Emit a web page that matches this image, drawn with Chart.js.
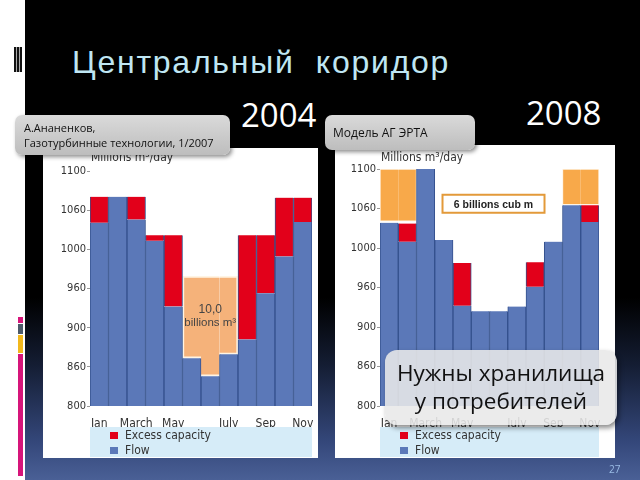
<!DOCTYPE html>
<html>
<head>
<meta charset="utf-8">
<script src="https://cdn.jsdelivr.net/npm/chart.js@4.4.0/dist/chart.umd.min.js"></script>
<style>
html, body { margin: 0; padding: 0; }
body { width: 640px; height: 480px; position: relative; overflow: hidden; background: #fff; font-family: "Open Sans", sans-serif; }
#slide { position: absolute; left: 25px; top: 0; width: 615px; height: 480px;
  background: linear-gradient(to bottom, #000 0%, #000 62%, #141d33 76%, #34477a 92%, #4a6096 100%); }
#bars { position: absolute; left: 14px; top: 47px; width: 8px; height: 25px;
  background: repeating-linear-gradient(90deg, #111 0 2px, #aaa 2px 3px); }
.strip { position: absolute; left: 18px; width: 5px; }
#title { position: absolute; left: 72px; top: 46px; font: 32px/32px "Liberation Sans", Arial, sans-serif; letter-spacing: 1.75px; color: #bfe6f3; white-space: pre; }
.year { position: absolute; font-size: 33px; line-height: 33px; color: #fff; }
.panel { position: absolute; background: #fff; }
.panel canvas { display: block; }
.note { position: absolute; box-sizing: border-box; border-radius: 7px; color: #111;
  background: linear-gradient(to bottom, #dadada, #bdbdbd); box-shadow: 2px 2px 4px rgba(0,0,0,0.45); }
#n1 { left: 15px; top: 115px; width: 215px; height: 40px; padding: 5px 0 0 9px; font-size: 11px; line-height: 15px; }
#n2 { left: 325px; top: 115px; width: 150px; height: 35px; padding: 10px 0 0 8px; font-size: 12px; line-height: 16px; }
#need { position: absolute; left: 385px; top: 350px; width: 232px; height: 75px; box-sizing: border-box; padding-top: 9px;
  text-align: center; font-size: 22.5px; line-height: 28px; color: #111; border-radius: 12px;
  background: rgba(232,232,232,0.88); box-shadow: 2px 3px 5px rgba(0,0,0,0.45); }
#pg { position: absolute; left: 609px; top: 462px; font-size: 10px; color: #9bbde6; }
</style>
</head>
<body>
<div id="slide"></div>
<div id="bars"></div>
<div class="strip" style="top:317px;height:6px;background:#d6157a"></div>
<div class="strip" style="top:324px;height:10px;background:#4c5a6a"></div>
<div class="strip" style="top:335px;height:18px;background:#f2b81c"></div>
<div class="strip" style="top:354px;height:122px;background:#d6157a"></div>

<div id="title">Центральный  коридор</div>
<div class="year" style="left:241px;top:98px">2004</div>
<div class="year" style="left:526px;top:96px">2008</div>

<div class="panel" style="left:43px;top:148px;width:275px;height:310px"><canvas id="c2004" width="275" height="310"></canvas></div>
<div class="panel" style="left:335px;top:145px;width:280px;height:313px"><canvas id="c2008" width="280" height="313"></canvas></div>

<div class="note" id="n1">А.Ананенков,<br>Газотурбинные технологии, 1/2007</div>
<div class="note" id="n2">Модель АГ ЭРТА</div>
<div id="need">Нужны хранилища<br>у потребителей</div>
<div id="pg">27</div>

<script>
const months = ['Jan', '', 'March', '', 'May', '', '', 'July', '', 'Sep', '', 'Nov'];
const yTickLabels = ['800', '860', '900', '960', '1000', '1060', '1100'];
const yAxisTitle = 'Millions m³/day';

// 2004 (Ананенков)
const flow2004 = [1034, 1067, 1038, 1011, 927, 861, 838, 866, 885, 944, 991, 1035];
const excess2004 = [33, 0, 29, 7, 91, 0, 0, 0, 133, 74, 75, 31];
const storage2004 = [null, null, null, null, null, [861, 966], [838, 966], [866, 966], null, null, null, null];
const storageText2004 = ['10,0', 'billions m³'];

// 2008 (модель АГ ЭРТА)
const flow2008 = [1032, 1008, 1100, 1010, 927, 920, 920, 926, 951, 1008, 1054, 1033];
const excess2008 = [0, 23, 0, 0, 54, 0, 0, 0, 31, 0, 0, 21];
const storage2008 = [[1034, 1100], [1034, 1100], null, null, null, null, null, null, null, null, [1055, 1100], [1055, 1100]];
const storageText2008 = '6 billions cub m';

const narrow = '"Liberation Sans Narrow", "DejaVu Sans Condensed", Arial, sans-serif';
const regular = '"Liberation Sans", Arial, sans-serif';

// axis title, legend box and storage captions
const panelExtras = {
  id: 'panelExtras',
  afterDraw(chart, args, opts) {
    const { ctx, chartArea: a, scales: { x, y } } = chart;
    ctx.save();
    ctx.textBaseline = 'middle';
    ctx.textAlign = 'left';
    ctx.fillStyle = '#333';
    ctx.font = '12px ' + narrow;
    ctx.fillText(yAxisTitle, a.left + 1, a.top - opts.titleGap);

    const top = a.bottom + 21;
    ctx.fillStyle = '#d6ecf8';
    ctx.fillRect(a.left, top, a.right - a.left, chart.height - 1 - top);
    const items = [chart.data.datasets[1], chart.data.datasets[0]];
    items.forEach((ds, i) => {
      const cy = top + 9 + i * 15;
      ctx.fillStyle = ds.backgroundColor;
      ctx.fillRect(a.left + 20, cy - 4, 8, 7);
      ctx.fillStyle = '#333';
      ctx.fillText(ds.label, a.left + 35, cy);
    });

    ctx.textAlign = 'center';
    if (opts.lines) {
      const cx = x.getPixelForValue(opts.at);
      ctx.fillStyle = '#444';
      ctx.font = '12px ' + regular;
      ctx.fillText(opts.lines[0], cx, y.getPixelForValue(opts.lineValues[0]));
      ctx.font = '11.5px ' + regular;
      ctx.fillText(opts.lines[1], cx, y.getPixelForValue(opts.lineValues[1]));
    }
    if (opts.box) {
      const cx = x.getPixelForValue(opts.at), cy = y.getPixelForValue(opts.boxValue);
      ctx.fillStyle = '#fff';
      ctx.strokeStyle = '#e39a3a';
      ctx.lineWidth = 2;
      ctx.fillRect(cx - 51, cy - 9, 102, 18);
      ctx.strokeRect(cx - 51, cy - 9, 102, 18);
      ctx.fillStyle = '#222';
      ctx.font = 'bold 10.5px ' + regular;
      ctx.fillText(opts.box, cx, cy + 1);
    }
    ctx.restore();
  }
};

function outline(ctx) {
  const d = ctx.dataset.data, i = ctx.dataIndex, w = ctx.dataset.edge;
  return { top: w, bottom: w, left: d[i - 1] ? 0 : w, right: d[i + 1] ? 0 : w };
}

function buildChart(id, flow, excess, storage, storageColor, edge, yWidth, padTop, padRight, extras) {
  return new Chart(document.getElementById(id), {
    type: 'bar',
    data: {
      labels: months,
      datasets: [
        { label: 'Flow', data: flow, stack: 's', backgroundColor: '#5b78b8', borderColor: '#34508c',
          borderWidth: { left: 1, right: 1, top: 0, bottom: 0 }, borderSkipped: false },
        { label: 'Excess capacity', data: excess, stack: 's', backgroundColor: '#e2001a', borderColor: '#34508c',
          borderWidth: { left: 1, right: 1, top: 0, bottom: 0 }, borderSkipped: false },
        { label: 'storage', data: storage, stack: 's', yAxisID: 'y2', backgroundColor: storageColor,
          borderColor: '#fff4e4', edge: edge, borderWidth: outline, borderSkipped: false }
      ]
    },
    options: {
      responsive: false,
      animation: false,
      layout: { padding: { left: 0, top: padTop, right: padRight, bottom: 0 } },
      datasets: { bar: { categoryPercentage: 1, barPercentage: 1 } },
      plugins: { legend: { display: false }, tooltip: { enabled: false }, panelExtras: extras },
      scales: {
        x: {
          stacked: true,
          grid: { display: false },
          border: { display: false },
          ticks: { autoSkip: false, maxRotation: 0, padding: 3, color: '#333', font: { family: narrow, size: 12 } },
          afterFit: s => { s.height = 52; }
        },
        y: {
          stacked: true, min: 800, max: 1100,
          grid: { drawOnChartArea: false, tickLength: 3, color: '#999' },
          border: { display: false },
          ticks: { stepSize: 50, padding: 1, color: '#333', font: { family: narrow, size: 11 },
            callback: (v, i) => yTickLabels[i] },
          afterFit: s => { s.width = yWidth; }
        },
        y2: { display: false, stacked: false, min: 800, max: 1100 }
      }
    },
    plugins: [panelExtras]
  });
}

buildChart('c2004', flow2004, excess2004, storage2004, '#f5b27a', 2, 47, 23, 6,
  { titleGap: 13, lines: storageText2004, at: 6, lineValues: [923, 906] });
buildChart('c2008', flow2008, excess2008, storage2008, '#f8a94a', 1, 45, 24, 16,
  { titleGap: 11, box: storageText2008, at: 5.72, boxValue: 1056 });
</script>
</body>
</html>
